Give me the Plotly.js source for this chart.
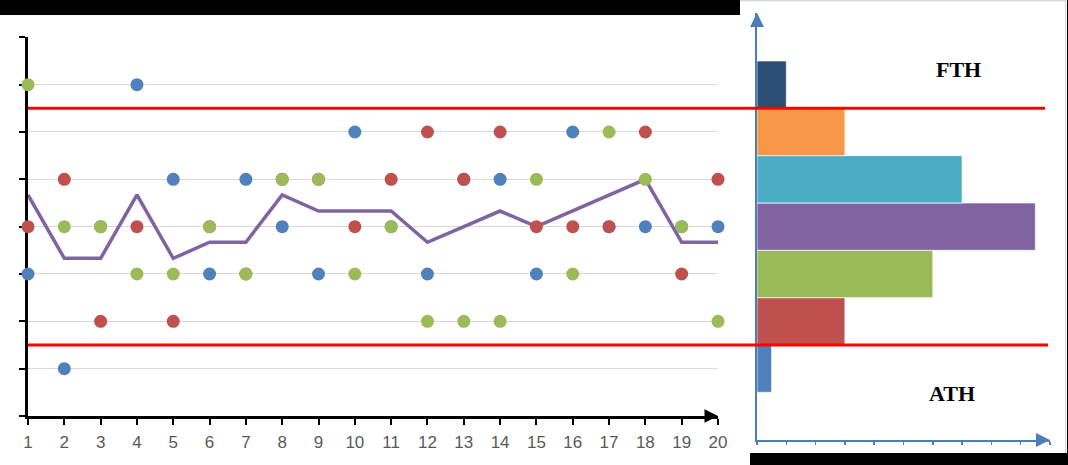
<!DOCTYPE html>
<html>
<head>
<meta charset="utf-8">
<script src="https://cdn.plot.ly/plotly-3.0.1.min.js"></script>
<style>
html,body{margin:0;padding:0;background:#fff;}
#chart{width:1068px;height:465px;}
</style>
</head>
<body>
<div id="chart"></div>
<script>
// ---- data ----
var samples = [1,2,3,4,5,6,7,8,9,10,11,12,13,14,15,16,17,18,19,20];
var tickLabels = ["1","2","3","4","5","6","7","8","9","10","11","12","13","14","15","16","17","18","19","20"];
var blueValues  = [3,1,4,7,5,3,5,4,3,6,4,3,5,5,3,6,4,4,4,4];
var redValues   = [4,5,2,4,2,4,3,5,5,4,5,6,5,6,4,4,4,6,3,5];
var greenValues = [7,4,4,3,3,4,3,5,5,3,4,2,2,2,5,3,6,5,4,2];
var meanValues  = [4.67,3.33,3.33,4.67,3.33,3.67,3.67,4.67,4.33,4.33,4.33,3.67,4.0,4.33,4.0,4.33,4.67,5.0,3.67,3.67];
var histLevels  = [1,2,3,4,5,6,7];
var histCounts  = [1,6,12,19,14,6,2];
var histColors  = ["#4f81bd","#c0504d","#9bbb59","#8064a2","#4bacc6","#f79646","#2c4d75"];
var upperThreshold = 6.5;
var lowerThreshold = 1.5;
var thresholdLabels = ["FTH","ATH"];

var W = 1068, H = 465;
function px(x){ return x / W; }
function py(y){ return (H - y) / H; }

var dotSize = 13;
var traces = [
  {x: samples, y: meanValues, type: "scatter", mode: "lines",
   line: {color: "#8064a2", width: 3.5}, xaxis: "x", yaxis: "y", cliponaxis: false, hoverinfo: "skip"},
  {x: samples, y: blueValues, type: "scatter", mode: "markers",
   marker: {color: "#4f81bd", size: dotSize}, xaxis: "x", yaxis: "y", cliponaxis: false},
  {x: samples, y: redValues, type: "scatter", mode: "markers",
   marker: {color: "#c0504d", size: dotSize}, xaxis: "x", yaxis: "y", cliponaxis: false},
  {x: samples, y: greenValues, type: "scatter", mode: "markers",
   marker: {color: "#9bbb59", size: dotSize}, xaxis: "x", yaxis: "y", cliponaxis: false},
  {x: histCounts, y: histLevels, type: "bar", orientation: "h", width: 1,
   marker: {color: histColors, line: {color: "rgba(255,255,255,0.7)", width: 1}},
   xaxis: "x2", yaxis: "y2"}
];

var axisBlue = "#4a7ebb";
var layout = {
  width: W, height: H,
  margin: {l: 0, r: 0, t: 0, b: 0},
  paper_bgcolor: "#fff", plot_bgcolor: "rgba(0,0,0,0)",
  showlegend: false,
  bargap: 0,
  xaxis: {
    domain: [px(28), px(718)], range: [1, 20], anchor: "y",
    tickvals: samples, ticktext: tickLabels,
    ticks: "outside", ticklen: 6, tickwidth: 2, tickcolor: "#000",
    showline: true, linecolor: "#000", linewidth: 3, layer: "below traces",
    showgrid: false, zeroline: false,
    ticklabelstandoff: 3,
    tickfont: {family: "Liberation Sans, Arial, sans-serif", size: 17, color: "#595959"}
  },
  xaxis3: {
    overlaying: "x", matches: "x", anchor: "y", range: [1, 20],
    tickvals: samples, ticks: "inside", ticklen: 5, tickwidth: 2, tickcolor: "#000",
    showticklabels: false, showgrid: false, zeroline: false, showline: false
  },
  yaxis: {
    domain: [py(416), py(37.3)], range: [0, 8], anchor: "x",
    tickvals: [0,1,2,3,4,5,6,7,8], showticklabels: false,
    ticks: "outside", ticklen: 6, tickwidth: 2, tickcolor: "#000",
    showline: true, linecolor: "#000", linewidth: 3, layer: "below traces",
    showgrid: true, gridcolor: "#d9d9d9", gridwidth: 1, zeroline: false
  },
  xaxis2: {
    domain: [px(757), px(1050)], range: [0, 20], anchor: "y2",
    dtick: 2, tick0: 0, ticks: "outside", ticklen: 3, tickwidth: 1.5, tickcolor: axisBlue,
    showticklabels: false, showgrid: false, zeroline: false,
    showline: true, linecolor: axisBlue, linewidth: 2
  },
  yaxis2: {
    domain: [py(440), py(13)], range: [(416 - 440) / 47.34, (416 - 13) / 47.34], anchor: "x2",
    showticklabels: false, ticks: "", showgrid: false, zeroline: false,
    showline: true, linecolor: axisBlue, linewidth: 2
  },
  shapes: [
    {type: "rect", xref: "paper", yref: "paper", x0: 0, x1: px(740), y0: py(15), y1: 1,
     fillcolor: "#000", line: {width: 0}},
    {type: "rect", xref: "paper", yref: "paper", x0: px(750), x1: 1, y0: 0, y1: py(453),
     fillcolor: "#000", line: {width: 0}},
    {type: "line", xref: "paper", yref: "paper", x0: px(740), x1: px(1066), y0: py(0.6), y1: py(0.6),
     line: {color: "#d4d4d4", width: 1.2}},
    {type: "line", xref: "paper", yref: "paper", x0: px(1065.5), x1: px(1065.5), y0: py(453), y1: 1,
     line: {color: "#d4d4d4", width: 1}},
    {type: "line", xref: "paper", yref: "paper", x0: px(1067.5), x1: px(1067.5), y0: py(453), y1: 1,
     line: {color: "#000", width: 1}},
    {type: "line", xref: "paper", yref: "y", x0: px(28), x1: px(1045), y0: upperThreshold, y1: upperThreshold,
     line: {color: "#ff0000", width: 3}, layer: "above"},
    {type: "line", xref: "paper", yref: "y", x0: px(28), x1: px(1048), y0: lowerThreshold, y1: lowerThreshold,
     line: {color: "#ff0000", width: 3}, layer: "above"}
  ],
  annotations: [
    {xref: "x", yref: "y", x: 20, y: 0, ax: -13, ay: 0,
     text: "", showarrow: true, arrowhead: 2, arrowsize: 0.9, arrowwidth: 3, arrowcolor: "#000"},
    {xref: "x2", yref: "y2", x: 20, y: (416 - 440) / 47.34, ax: -14, ay: 0,
     text: "", showarrow: true, arrowhead: 2, arrowsize: 1.4, arrowwidth: 2, arrowcolor: axisBlue},
    {xref: "x2", yref: "y2", x: 0, y: (416 - 13) / 47.34, ax: 0, ay: 14,
     text: "", showarrow: true, arrowhead: 2, arrowsize: 1.4, arrowwidth: 2, arrowcolor: axisBlue},
    {xref: "paper", yref: "paper", x: px(958), y: py(70), xanchor: "center", yanchor: "middle",
     text: "<b>" + thresholdLabels[0] + "</b>", showarrow: false,
     font: {family: "Liberation Serif, Times New Roman, serif", size: 22, color: "#000"}},
    {xref: "paper", yref: "paper", x: px(952), y: py(393), xanchor: "center", yanchor: "middle",
     text: "<b>" + thresholdLabels[1] + "</b>", showarrow: false,
     font: {family: "Liberation Serif, Times New Roman, serif", size: 22, color: "#000"}}
  ]
};

Plotly.newPlot("chart", traces, layout, {displayModeBar: false, staticPlot: true});
</script>
</body>
</html>
